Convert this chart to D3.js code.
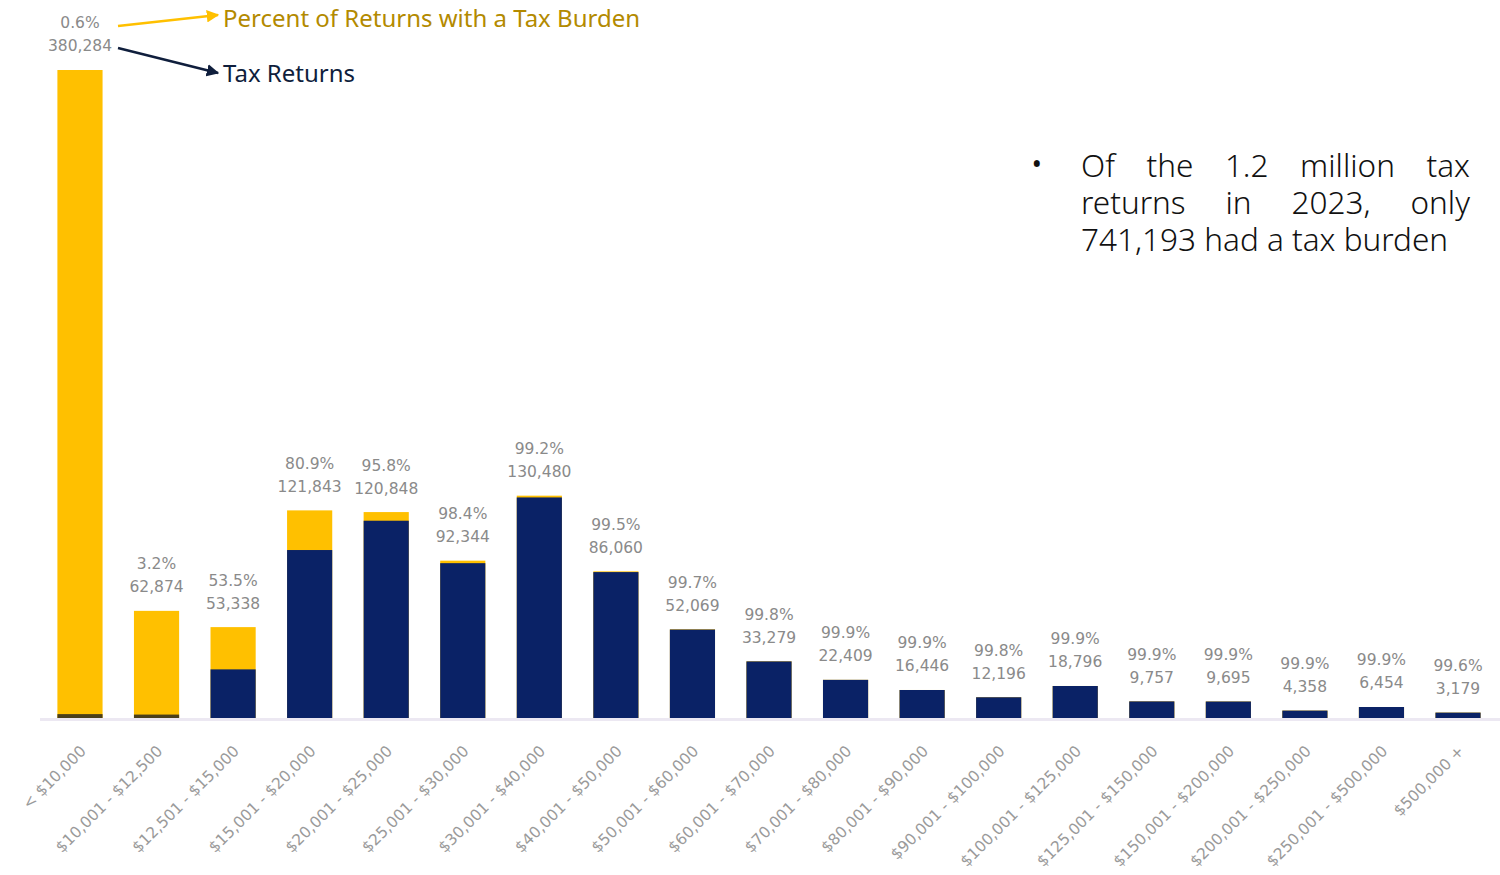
<!DOCTYPE html>
<html>
<head>
<meta charset="utf-8">
<script src="https://cdn.jsdelivr.net/npm/d3@7"></script>
<style>
  html, body { margin: 0; padding: 0; background: #fff; }
  svg { display: block; }
</style>
</head>
<body>
<script>
// income brackets, returns filed and share of returns with a tax burden
const brackets = ['< $10,000', '$10,001 - $12,500', '$12,501 - $15,000', '$15,001 - $20,000',
  '$20,001 - $25,000', '$25,001 - $30,000', '$30,001 - $40,000', '$40,001 - $50,000',
  '$50,001 - $60,000', '$60,001 - $70,000', '$70,001 - $80,000', '$80,001 - $90,000',
  '$90,001 - $100,000', '$100,001 - $125,000', '$125,001 - $150,000', '$150,001 - $200,000',
  '$200,001 - $250,000', '$250,001 - $500,000', '$500,000 +']
const returns = [380284, 62874, 53338, 121843, 120848, 92344, 130480, 86060, 52069, 33279,
  22409, 16446, 12196, 18796, 9757, 9695, 4358, 6454, 3179]
const pctBurden = [0.6, 3.2, 53.5, 80.9, 95.8, 98.4, 99.2, 99.5, 99.7, 99.8,
  99.9, 99.9, 99.8, 99.9, 99.9, 99.9, 99.9, 99.9, 99.6]
const noteLines = [['Of', 'the', '1.2', 'million', 'tax'], ['returns', 'in', '2023,', 'only'], ['741,193 had a tax burden']]

const WIDTH = 1500
const HEIGHT = 875
const YELLOW = '#ffc000'
const NAVY = '#0a2266'
const GOLD = '#b38a00'
const INK = '#0f1e3c'

const rows = brackets.map((b, i) => ({
  bracket: b,
  total: returns[i],
  pct: pctBurden[i],
  burden: returns[i] * pctBurden[i] / 100,
}))

const svg = d3.select('body')
  .append('svg')
  .attr('width', WIDTH)
  .attr('height', HEIGHT)

const x = d3.scaleBand()
  .domain(brackets)
  .range([41.7, 1496.3])
  .paddingInner(0.41)
  .paddingOuter(0.205)

const y = d3.scaleLinear()
  .domain([0, d3.max(returns)])
  .range([718, 70])

// faint baseline
svg.append('line')
  .attr('x1', 40).attr('x2', 1500)
  .attr('y1', y(0) + 1.5).attr('y2', y(0) + 1.5)
  .attr('stroke', '#ece8f2')
  .attr('stroke-width', 3)

const bars = svg.append('g')
  .selectAll('g')
  .data(rows)
  .join('g')

// full bar = all returns (yellow), navy part = returns with a tax burden
bars.append('rect')
  .attr('x', d => x(d.bracket))
  .attr('width', x.bandwidth())
  .attr('y', d => y(d.total))
  .attr('height', d => y(0) - y(d.total))
  .attr('fill', YELLOW)

bars.append('rect')
  .attr('x', d => x(d.bracket))
  .attr('width', x.bandwidth())
  .attr('y', d => y(d.burden))
  .attr('height', d => Math.max(2, y(0) - y(d.burden)))
  .attr('fill', d => d.pct < 5 ? '#4a3f1a' : NAVY)

const labelFont = "'DejaVu Sans', sans-serif"

bars.append('text')
  .attr('x', d => x(d.bracket) + x.bandwidth() / 2)
  .attr('y', d => y(d.total) - 24)
  .attr('dy', '0.35em')
  .attr('text-anchor', 'middle')
  .attr('font-family', labelFont)
  .attr('font-size', 15.5)
  .attr('fill', '#8a8a8a')
  .text(d => d3.format(',')(d.total))

bars.append('text')
  .attr('x', d => x(d.bracket) + x.bandwidth() / 2)
  .attr('y', d => y(d.total) - 47)
  .attr('dy', '0.35em')
  .attr('text-anchor', 'middle')
  .attr('font-family', labelFont)
  .attr('font-size', 15.5)
  .attr('fill', '#8a8a8a')
  .text(d => d.pct.toFixed(1) + '%')

// rotated bracket labels
svg.append('g')
  .selectAll('text')
  .data(brackets)
  .join('text')
  .attr('transform', d => `translate(${x(d) + x.bandwidth() / 2 + 7}, 752) rotate(-45)`)
  .attr('text-anchor', 'end')
  .attr('font-family', labelFont)
  .attr('font-size', 15.5)
  .attr('fill', '#9a9a9a')
  .text(d => d)

// legend arrows
const defs = svg.append('defs')
function marker(id, color) {
  defs.append('marker')
    .attr('id', id)
    .attr('viewBox', '0 0 10 10')
    .attr('refX', 9).attr('refY', 5)
    .attr('markerWidth', 5).attr('markerHeight', 5)
    .attr('orient', 'auto')
    .append('path')
    .attr('d', 'M0,0L10,5L0,10z')
    .attr('fill', color)
}
marker('arrGold', YELLOW)
marker('arrNavy', INK)

svg.append('line')
  .attr('x1', 118).attr('y1', 26).attr('x2', 218).attr('y2', 15)
  .attr('stroke', YELLOW).attr('stroke-width', 2.5)
  .attr('marker-end', 'url(#arrGold)')
svg.append('line')
  .attr('x1', 118).attr('y1', 48).attr('x2', 218).attr('y2', 73)
  .attr('stroke', INK).attr('stroke-width', 2.5)
  .attr('marker-end', 'url(#arrNavy)')

svg.append('text')
  .attr('x', 223).attr('y', 27)
  .attr('font-family', "'Noto Sans', sans-serif")
  .attr('font-size', 24)
  .attr('fill', GOLD)
  .text('Percent of Returns with a Tax Burden')
svg.append('text')
  .attr('x', 223).attr('y', 82)
  .attr('font-family', "'Noto Sans', sans-serif")
  .attr('font-size', 24)
  .attr('fill', INK)
  .text('Tax Returns')

// justified bullet note
const note = svg.append('g')
  .attr('font-family', "'Noto Sans', sans-serif")
  .attr('font-weight', 300)
  .attr('font-size', 31.5)
  .attr('fill', '#111')

note.append('text')
  .attr('x', 1030).attr('y', 177)
  .attr('font-size', 36)
  .text('•')

const left = 1081
const right = 1470
noteLines.forEach((words, li) => {
  const yy = 177 + li * 37
  const texts = words.map(w => note.append('text').attr('y', yy).text(w))
  const widths = texts.map(t => t.node().getComputedTextLength())
  const last = li === noteLines.length - 1
  const gap = last || words.length < 2 ? 0 : (right - left - d3.sum(widths)) / (words.length - 1)
  let cx = left
  texts.forEach((t, i) => {
    t.attr('x', cx)
    cx += widths[i] + gap
  })
})
</script>
</body>
</html>
